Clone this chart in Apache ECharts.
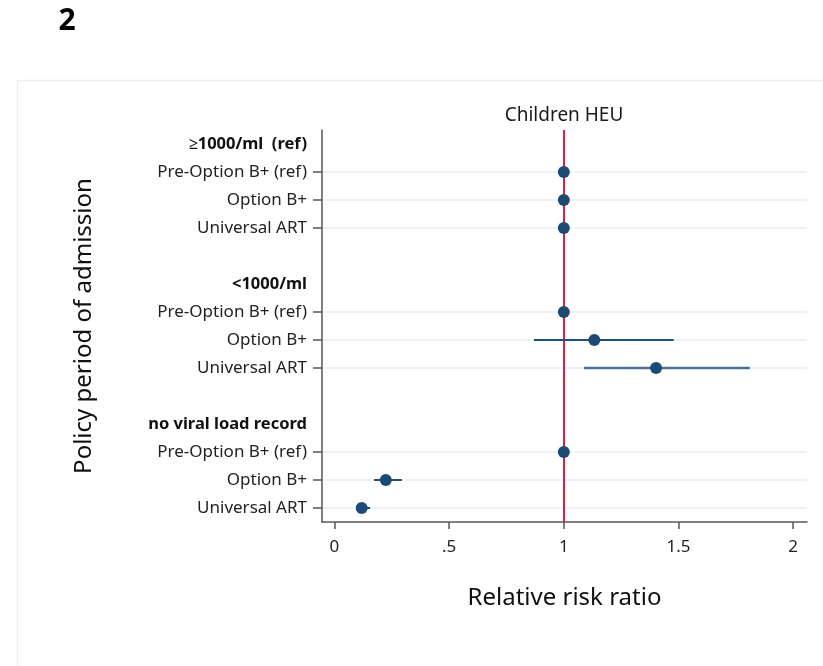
<!DOCTYPE html>
<html><head><meta charset="utf-8">
<script src="https://cdn.jsdelivr.net/npm/echarts@6/dist/echarts.min.js"></script>
<style>html,body{margin:0;padding:0;background:#fff}#c{width:823px;height:666px}</style>
</head><body><div id="c"></div>
<script>
// Rows (top to bottom); type: 'h' header, 'i' item, 'b' blank
const rowLabels = ['≥1000/ml  (ref)', 'Pre-Option B+ (ref)', 'Option B+', 'Universal ART', '',
  '<1000/ml', 'Pre-Option B+ (ref)', 'Option B+', 'Universal ART', '',
  'no viral load record', 'Pre-Option B+ (ref)', 'Option B+', 'Universal ART'];
const rowTypes = ['h','i','i','i','b','h','i','i','i','b','h','i','i','i'];
// estimates per item row index
const pointRows = [1, 2, 3, 6, 7, 8, 11, 12, 13];
const rrValues  = [1, 1, 1, 1, 1.133, 1.402, 1, 0.224, 0.119];
const ciLower   = [null, null, null, null, 0.870, 1.088, null, 0.173, 0.095];
const ciUpper   = [null, null, null, null, 1.479, 1.811, null, 0.294, 0.156];
const xTicks = [0, 0.5, 1, 1.5, 2];
const xTickLabels = ['0', '.5', '1', '1.5', '2'];

const chart = echarts.init(document.getElementById('c'));
const F = 'Noto Sans';
const isItem = (i) => rowTypes[i] === 'i';

const ciData = [];
pointRows.forEach((r, k) => { if (ciLower[k] != null) ciData.push([ciLower[k], r, ciUpper[k], k]); });

chart.setOption({
  animation: false,
  textStyle: {fontFamily: F},
  grid: {left: 322, top: 130, right: 16, bottom: 144, containLabel: false},
  graphic: [
    {type: 'rect', shape: {x: 17.5, y: 80.5, width: 820, height: 600}, style: {fill: 'none', stroke: '#eaf1f1', lineWidth: 1.5}, z: -10},
    {type: 'text', x: 67, y: 21, style: {text: '2', font: 'bold 30px "Noto Sans"', fill: '#000', textAlign: 'center', textVerticalAlign: 'middle'}},
    {type: 'text', x: 564, y: 116, style: {text: 'Children HEU', font: '19px "Noto Sans"', fill: '#1a1a1a', textAlign: 'center', textVerticalAlign: 'middle'}}
  ],
  xAxis: {
    type: 'value', min: -0.054, max: 2.06,
    axisLine: {show: true, onZero: false, lineStyle: {color: '#555', width: 1.5}},
    axisTick: {show: true, length: 7, customValues: xTicks, lineStyle: {color: '#555', width: 1.5}},
    axisLabel: {customValues: xTicks, margin: 17, fontSize: 17, color: '#222', fontFamily: F,
      formatter: (v) => { const j = xTicks.indexOf(+v); return j >= 0 ? xTickLabels[j] : ''; }},
    splitLine: {show: false},
    name: 'Relative risk ratio', nameLocation: 'middle', nameGap: 64,
    nameTextStyle: {fontSize: 24, color: '#111', fontFamily: F}
  },
  yAxis: {
    type: 'category', inverse: true, boundaryGap: true,
    data: rowLabels.map((l, i) => 'r' + i),
    axisLine: {show: true, onZero: false, lineStyle: {color: '#555', width: 1.5}},
    axisTick: {show: true, alignWithLabel: true, length: 9, interval: (i) => isItem(i), lineStyle: {color: '#555', width: 1.5}},
    splitLine: {show: true, alignWithLabel: true, interval: (i) => isItem(i), lineStyle: {color: '#e9eff3', width: 1.5}},
    axisLabel: {
      interval: 0, margin: 15,
      formatter: (v, i) => { const t = rowLabels[i]; if (!t) return ''; return rowTypes[i] === 'h' ? '{h|' + t + '}' : '{n|' + t + '}'; },
      rich: {
        h: {fontSize: 16.5, fontWeight: 'bold', color: '#111', fontFamily: F},
        n: {fontSize: 17, color: '#222', fontFamily: F}
      }
    },
    name: 'Policy period of admission', nameLocation: 'middle', nameGap: 226, nameRotate: 90,
    nameTextStyle: {fontSize: 24, color: '#111', fontFamily: F}
  },
  series: [
    {
      type: 'custom', z: 2,
      data: ciData,
      renderItem: (params, api) => {
        const p1 = api.coord([api.value(0), api.value(1)]);
        const p2 = api.coord([api.value(2), api.value(1)]);
        const k = api.value(3);
        return {type: 'line', shape: {x1: p1[0], y1: p1[1], x2: p2[0], y2: p2[1]},
          style: {stroke: k === 5 ? '#4d7097' : '#1f4e79', lineWidth: k === 5 ? 2.5 : 2}};
      },
      encode: {x: 0, y: 1}
    },
    {
      type: 'scatter', z: 5, symbol: 'circle', symbolSize: 12,
      itemStyle: {color: '#1c4a74', opacity: 1},
      data: pointRows.map((r, k) => [rrValues[k], r]),
      markLine: {
        silent: true, symbol: 'none', z: 1,
        label: {show: false},
        lineStyle: {color: '#d81e4f', width: 2, type: 'solid'},
        data: [{xAxis: 1}]
      }
    }
  ]
});
</script></body></html>
